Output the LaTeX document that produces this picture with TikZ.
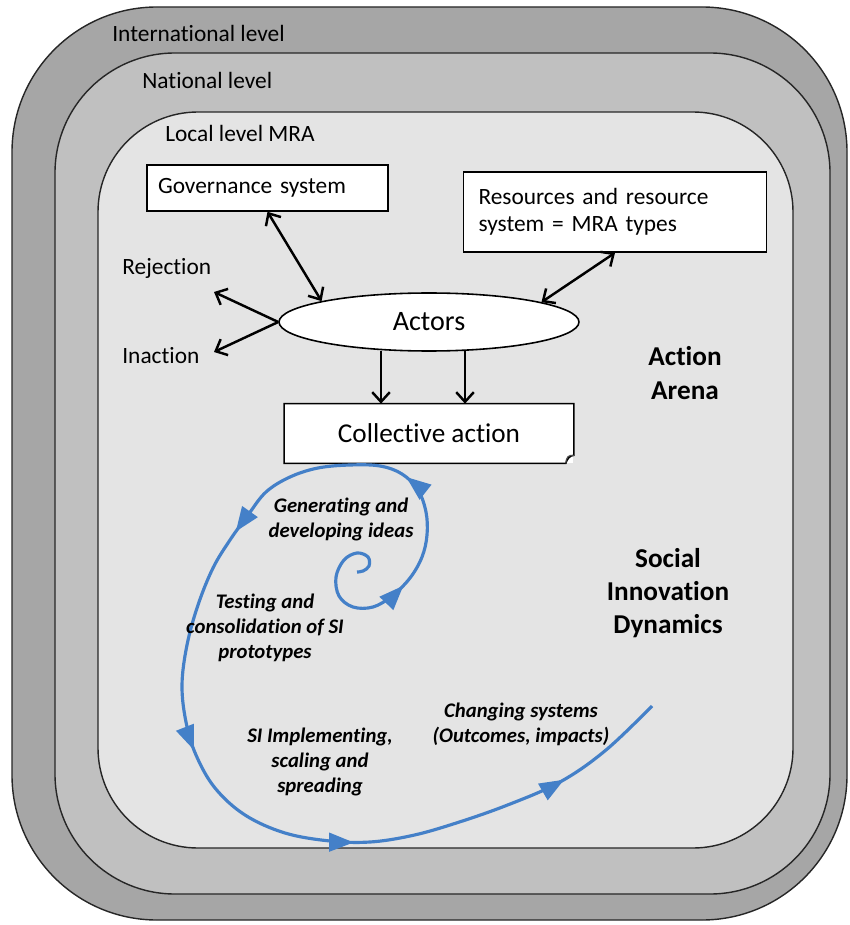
\documentclass[tikz,border=0pt]{standalone}
\usepackage{fontspec}
\setmainfont{Carlito}[Ligatures=CommonOff]
\usetikzlibrary{positioning,calc,arrows.meta,shapes,decorations.markings}

\definecolor{intgray}{RGB}{166,166,166}
\definecolor{natgray}{RGB}{192,192,192}
\definecolor{locgray}{RGB}{228,228,228}
\definecolor{siblue}{RGB}{68,128,200}

\tikzset{
  levelbox/.style={draw=black!85, line width=0.8pt},
  lvltext/.style={anchor=west, inner sep=0pt, font=\fontsize{13.3}{15}\selectfont},
  infobox/.style={draw, fill=white, line width=0.9pt, inner xsep=0.22cm, inner ysep=0pt, align=left,
                  font=\fontsize{13.3}{15.3}\selectfont},
  bigtext/.style={align=center, inner sep=0pt, font=\fontsize{15.5}{19}\selectfont\bfseries},
  sitext/.style={align=center, inner sep=0pt, font=\fontsize{11.8}{14.2}\selectfont\bfseries\itshape},
  spiral/.style={siblue, line width=1.8pt, postaction={decorate},
    decoration={markings,
      mark=at position 0.132 with {\arrow{Triangle[length=14pt,width=10.5pt]}},
      mark=at position 0.229 with {\arrow{Triangle[length=14pt,width=10.5pt]}},
      mark=at position 0.388 with {\arrow{Triangle[length=14pt,width=10.5pt]}},
      mark=at position 0.573 with {\arrow{Triangle[length=14pt,width=10.5pt]}},
      mark=at position 0.731 with {\arrow{Triangle[length=14pt,width=10.5pt]}},
      mark=at position 0.908 with {\arrow{Triangle[length=14pt,width=10.5pt]}}}}
}

\begin{document}
\begin{tikzpicture}[x=0.02cm, y=-0.02cm, >={Straight Barb[length=5.5pt,width=10pt]}]
	\useasboundingbox (0,0) rectangle (849,925);
	
	% levels
	\draw[levelbox, fill=intgray, rounded corners=2.9cm] (12,7) rectangle (847,920);
	\draw[levelbox, fill=natgray, rounded corners=2.4cm] (55,53) rectangle (830,894);
	\draw[levelbox, fill=locgray, rounded corners=2.0cm] (98,112) rectangle (793,848);
	
	\node[lvltext] (intl) at (112,33) {International level};
	\node[lvltext] (natl) at (142,80) {National level};
	\node[lvltext] (locl) at (165,133) {Local level MRA};
	
	% action arena
	\node[infobox, text width=4.38cm, minimum height=0.92cm] (gov) at (267.5,188) {Governance system};
	\node[infobox, text width=5.46cm, minimum height=1.6cm, inner xsep=0.3cm] (res) at (615,212)
		{Resources and resource\\system = MRA types};
	
	\node[draw, fill=white, ellipse, line width=0.9pt, minimum width=6cm, minimum height=1.16cm, inner sep=0pt,
		font=\fontsize{16}{19}\selectfont] (actors) at (429,322) {Actors};
	
	\node[fill=white, minimum width=5.78cm, minimum height=1.18cm, inner sep=0pt,
		font=\fontsize{15.5}{18}\selectfont] (coll) at (429,433.5) {Collective action};
	\draw[line width=0.9pt] (coll.north west) -- (coll.north east) -- ($(coll.south east)+(0,-8)$)
		.. controls ($(coll.south east)+(-4,-8)$) and ($(coll.south east)+(-7,-4)$) .. ($(coll.south east)+(-8,0)$)
		-- (coll.south west) -- cycle;
	\draw[line width=0.6pt, black!70] ($(coll.south east)+(0,-8)$) .. controls ($(coll.south east)+(-5,-9)$) and ($(coll.south east)+(-8,-6)$) .. ($(coll.south east)+(-8,0)$);
	
	\node[lvltext] (rej) at (122,268) {Rejection};
	\node[lvltext] (inact) at (122,356) {Inaction};
	\coordinate (rejtip) at (214,292);
	\coordinate (inacttip) at (214,352);
	
	\draw[line width=1.4pt,<->] (gov.south) -- (actors.169);
	\draw[line width=1.4pt,<->] (res.south) -- (actors.10);
	\draw[line width=1.4pt,->] (actors.west) -- (rejtip);
	\draw[line width=1.4pt,->] (actors.west) -- (inacttip);
	\draw[line width=1.4pt,->] ($(actors.south)+(-48,-1)$) -- ($(coll.north)+(-48,0)$);
	\draw[line width=1.4pt,->] ($(actors.south)+(36,-1)$) -- ($(coll.north)+(36,0)$);
	
	\node[bigtext] (arena) at (685,373) {Action\\Arena};
	
	% social innovation spiral
	\draw[spiral] plot[smooth, tension=0.6] coordinates {
		(357,572) (363,571) (369,566) (368,557) (357,553) (344,560) (336,577) (339,596)
		(353,607) (373,607) (392,596) (410,578) (422,557) (427,535) (426,512) (418,490)
		(402,474) (380,466) (350,465) (318,468) (290,477) (266,492) (248,515) (230,540)
		(213,568) (198,605) (187,645) (182,685) (186,722) (196,755) (215,788) (245,815)
		(285,833) (330,841) (370,842) (410,836) (450,825) (505,806) (560,782) (606,750)
		(652,706)};
	
	\node[sitext] (gen) at (341,519) {Generating and\\developing ideas};
	\node[sitext] (test) at (265,628) {Testing and\\consolidation of SI\\prototypes};
	\node[sitext] (impl) at (320,762) {SI Implementing,\\scaling and\\spreading};
	\node[sitext] (chg) at (521,724) {Changing systems\\(Outcomes, impacts)};
	
	\node[bigtext] (sid) at (668,593) {Social\\Innovation\\Dynamics};
\end{tikzpicture}
\end{document}
